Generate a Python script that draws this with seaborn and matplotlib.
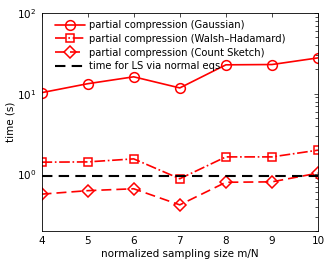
import numpy as np
import pandas as pd
import seaborn as sns
import matplotlib.pyplot as plt

# values
m_over_n = [4, 5, 6, 7, 8, 9, 10]
gaussian = [10.3, 13.3, 16.2, 11.8, 22.8, 23.0, 27.8]
walsh_hadamard = [1.42, 1.43, 1.56, 0.885, 1.65, 1.65, 2.0]
count_sketch = [0.57, 0.63, 0.665, 0.42, 0.80, 0.81, 1.04]
normal_eqs = 0.945

sns.set_style("white")
plt.rcParams['font.family'] = ['DejaVu Sans']
plt.rcParams['xtick.direction'] = 'in'
plt.rcParams['ytick.direction'] = 'in'
plt.rcParams['text.color'] = 'black'
plt.rcParams['axes.labelcolor'] = 'black'
plt.rcParams['xtick.color'] = 'black'
plt.rcParams['ytick.color'] = 'black'

fig, ax = plt.subplots(figsize=(3.32, 2.6), dpi=100)

series = [
    ("partial compression (Gaussian)", gaussian, "o", "-", 7, None),
    ("partial compression (Walsh\u2013Hadamard)", walsh_hadamard, "s", "-.", 5.5, None),
    ("partial compression (Count Sketch)", count_sketch, "D", "--", 6, (6, 3)),
]
for label, vals, mk, ls, ms, dash in series:
    df = pd.DataFrame({"m/N": m_over_n, "time": vals})
    sns.lineplot(data=df, x="m/N", y="time", ax=ax, color="red", marker=mk,
                 linestyle=ls, markersize=ms, markerfacecolor="none",
                 markeredgecolor="red", markeredgewidth=1.1, linewidth=1.2,
                 label=label)
    if dash is not None:
        ax.lines[-1].set_dashes(dash)
ax.plot(m_over_n, [normal_eqs] * len(m_over_n), color="black", linestyle="--",
        linewidth=1.5, dashes=(5, 3), label="time for LS via normal eqs")

ax.set_yscale("log")
ax.set_ylim(0.2, 100)
ax.set_xlim(4, 10)
ax.set_xticks(m_over_n)
ax.set_xlabel("normalized sampling size m/N", fontsize=7.5, labelpad=2)
ax.set_ylabel("time (s)", fontsize=7.5, labelpad=1)
ax.tick_params(axis="both", which="both", labelsize=7.5, top=True, right=True,
               length=3, width=0.5)
ax.tick_params(axis="both", which="minor", length=2)
for s in ax.spines.values():
    s.set_linewidth(0.6)
    s.set_color("black")

leg = ax.legend(loc="upper left", bbox_to_anchor=(0.025, 1.0), frameon=False,
                fontsize=7.2, handlelength=3.0, borderaxespad=0.3,
                labelspacing=0.38, handletextpad=0.4)

plt.subplots_adjust(left=0.125, right=0.958, top=0.95, bottom=0.112)
fig.savefig("out.png", dpi=100)
